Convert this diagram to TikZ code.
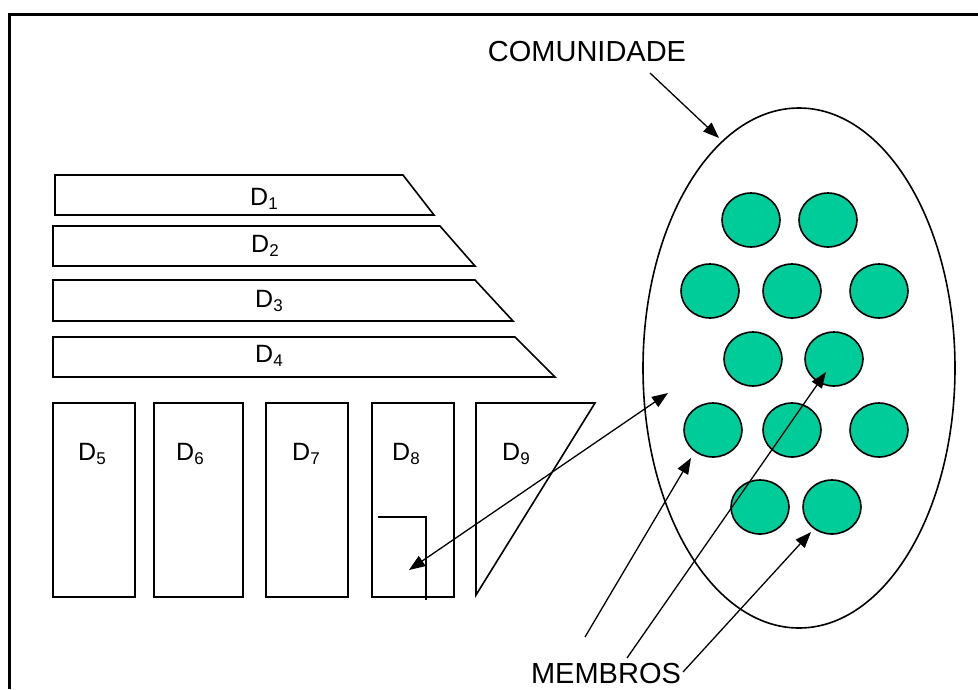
\documentclass[tikz,border=0pt]{standalone}
\usepackage{fontspec}
\setmainfont{Liberation Sans}
\usetikzlibrary{shapes.geometric,arrows.meta}
\definecolor{member}{RGB}{0,204,153}
\newcommand{\dlabel}[1]{D\raisebox{-4pt}{\fontsize{17}{17}\selectfont #1}}
\tikzset{
  frameline/.style={line width=3pt},
  shapeline/.style={draw, line width=1.6pt, line join=miter},
  dtext/.style={anchor=base west, inner sep=0pt, font=\fontsize{25}{28}\selectfont},
  bigtext/.style={inner sep=0pt, font=\fontsize{29}{34}\selectfont},
  member/.style={ellipse, draw, line width=1.6pt, fill=member, minimum width=58pt, minimum height=54pt, inner sep=0pt},
  community/.style={ellipse, draw, line width=1.6pt, minimum width=312pt, minimum height=520pt, inner sep=0pt},
  pointer/.style={line width=1.3pt, -{Triangle[length=16pt,width=12pt]}},
  twoway/.style={line width=1.3pt, {Triangle[length=16pt,width=12pt]}-{Triangle[length=16pt,width=12pt]}}
}
\begin{document}
\begin{tikzpicture}[x=1pt,y=-1pt]
\useasboundingbox (0,0) rectangle (978,689);
\fill[white] (0,0) rectangle (978,689);

% page frame (left and top edges)
\draw[frameline] (9,689) -- (9,14) -- (978,14);

% stacked slanted bars
\draw[shapeline] (55,175) -- (403,175) -- (434,215) -- (55,215) -- cycle;
\draw[shapeline] (53,226) -- (440,226) -- (475,266) -- (53,266) -- cycle;
\draw[shapeline] (53,280) -- (475,280) -- (513,321) -- (53,321) -- cycle;
\draw[shapeline] (53,337) -- (515,337) -- (555,377) -- (53,377) -- cycle;
\node[dtext] (d1) at (250,205) {\dlabel{1}};
\node[dtext] (d2) at (251,252) {\dlabel{2}};
\node[dtext] (d3) at (255,307) {\dlabel{3}};
\node[dtext] (d4) at (255,362) {\dlabel{4}};

% vertical boxes
\draw[shapeline] (53,403) rectangle (135,597);
\draw[shapeline] (154,403) rectangle (243,597);
\draw[shapeline] (266,403) rectangle (348,597);
\draw[shapeline] (372,403) rectangle (454,597);
\draw[shapeline] (476,403) -- (595,403) -- (476,595) -- cycle;
\node[dtext] (d5) at (78,460) {\dlabel{5}};
\node[dtext] (d6) at (176,460) {\dlabel{6}};
\node[dtext] (d7) at (292,460) {\dlabel{7}};
\node[dtext] (d8) at (392,460) {\dlabel{8}};
\node[dtext] (d9) at (502,460) {\dlabel{9}};

% corner mark inside D8
\draw[line width=1.6pt] (378,517) -- (426,517) -- (426,600);

% community and its members
\node[community] (com) at (799,368) {};
\node[member] (m1) at (751,220) {};
\node[member] (m2) at (828,220) {};
\node[member] (m3) at (710,291) {};
\node[member] (m4) at (792,291) {};
\node[member] (m5) at (879,291) {};
\node[member] (m6) at (753,359) {};
\node[member] (m7) at (834,359) {};
\node[member] (m8) at (713,430) {};
\node[member] (m9) at (792,430) {};
\node[member] (m10) at (879,430) {};
\node[member] (m11) at (760,507) {};
\node[member] (m12) at (832,507) {};

% labels
\node[bigtext] (comlabel) at (587,52) {COMUNIDADE};
\node[bigtext, anchor=base] (memlabel) at (606,683) {MEMBROS};

% arrow ends
\coordinate (comfrom) at (650,73);
\coordinate (comto) at (719,138);
\coordinate (linkA) at (409,570);
\coordinate (linkB) at (668,393);
\coordinate (mfromA) at (585,637);
\coordinate (mtoA) at (691,458);
\coordinate (mfromB) at (627,658);
\coordinate (mtoB) at (826,372);
\coordinate (mfromC) at (683,672);
\coordinate (mtoC) at (811,532);

\draw[pointer] (comfrom) -- (comto);
\draw[twoway] (linkA) -- (linkB);
\draw[pointer] (mfromA) -- (mtoA);
\draw[pointer] (mfromB) -- (mtoB);
\draw[pointer] (mfromC) -- (mtoC);
\end{tikzpicture}
\end{document}
